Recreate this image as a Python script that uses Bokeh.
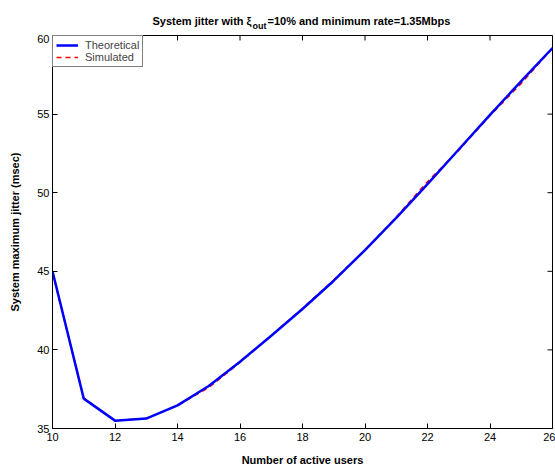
from bokeh.plotting import figure
from bokeh.layouts import column
from bokeh.models import Legend, LegendItem, FixedTicker, Range1d
from bokeh.core.properties import value
from bokeh.embed import file_html
from bokeh.resources import INLINE

users = [10, 11, 12, 13, 14, 15, 16, 17, 18, 19, 20, 21, 22, 23, 24, 25, 26]
theoretical = [45.0, 36.9, 35.5, 35.63, 36.47, 37.7, 39.25, 40.9, 42.6, 44.4, 46.35, 48.4, 50.55, 52.75, 54.95, 57.1, 59.2]
simulated = [44.9, 36.95, 35.5, 35.65, 36.45, 37.6, 39.2, 40.9, 42.65, 44.45, 46.35, 48.45, 50.7, 52.7, 54.9, 56.95, 59.2]

x_ticks = [10, 12, 14, 16, 18, 20, 22, 24, 26]
y_ticks = [35, 40, 45, 50, 55, 60]

title_main = "System jitter with \u03be"
title_sub = "out"
title_rest = "=10% and minimum rate=1.35Mbps"

FONT = "Liberation Sans"
W = 555
TITLE_H = 34
MAIN_H = 468 - TITLE_H
LEFT, RIGHT = 52, 3
FRAME_W = W - LEFT - RIGHT
FRAME_H = 394
X0, X1 = 10, 26
Y0, Y1 = 35, 60
TICK_PX = 5

# ---- title strip (its frame is aligned with the main plot's frame by the column) ----
t = figure(width=W, height=TITLE_H, output_backend="svg", toolbar_location=None,
           x_range=Range1d(LEFT, W - RIGHT), y_range=Range1d(0, TITLE_H),
           x_axis_type=None, y_axis_type=None,
           min_border_left=LEFT, min_border_right=RIGHT, min_border_top=0, min_border_bottom=0)
t.grid.visible = False
t.outline_line_color = None
t.text(x=[251], y=[13.5], text=[title_main], text_align="right", text_baseline="alphabetic",
       text_font=value(FONT), text_font_size="11px", text_font_style="bold", text_color="black")
t.text(x=[252], y=[9], text=[title_sub], text_align="left", text_baseline="alphabetic",
       text_font=value(FONT), text_font_size="9px", text_font_style="bold", text_color="black")
t.text(x=[267], y=[13.5], text=[title_rest], text_align="left", text_baseline="alphabetic",
       text_font=value(FONT), text_font_size="11px", text_font_style="bold", text_color="black")

# ---- main plot ----
p = figure(width=W, height=MAIN_H, output_backend="svg", toolbar_location=None,
           x_range=Range1d(X0, X1), y_range=Range1d(Y0, Y1),
           min_border_left=LEFT, min_border_right=RIGHT, min_border_top=1, min_border_bottom=39)
p.background_fill_color = "white"
p.border_fill_color = "white"
p.outline_line_color = "black"
p.xgrid.visible = False
p.ygrid.visible = False

for ax in [p.xaxis[0], p.yaxis[0]]:
    ax.major_tick_in = TICK_PX
    ax.major_tick_out = 0
    ax.minor_tick_in = 0
    ax.minor_tick_out = 0
    ax.axis_line_color = "black"
    ax.major_tick_line_color = "black"
    ax.major_label_text_font = FONT
    ax.major_label_text_font_size = "11px"
    ax.major_label_text_color = "black"
    ax.axis_label_text_font = FONT
    ax.axis_label_text_font_size = "11px"
    ax.axis_label_text_font_style = "bold"
    ax.axis_label_text_color = "black"

p.xaxis[0].ticker = FixedTicker(ticks=x_ticks)
p.yaxis[0].ticker = FixedTicker(ticks=y_ticks)
p.xaxis[0].axis_label = "Number of active users"
p.yaxis[0].axis_label = "System maximum jitter (msec)"
p.xaxis[0].major_label_standoff = 4
p.yaxis[0].major_label_standoff = 3
p.xaxis[0].axis_label_standoff = 10
p.yaxis[0].axis_label_standoff = 13

# inward ticks on the top and right edges of the box (MATLAB style)
tx = TICK_PX * (X1 - X0) / FRAME_W
ty = TICK_PX * (Y1 - Y0) / FRAME_H
p.segment(x0=x_ticks, y0=[Y1] * len(x_ticks), x1=x_ticks, y1=[Y1 - ty] * len(x_ticks),
          line_color="black", line_width=1)
p.segment(x0=[X1] * len(y_ticks), y0=y_ticks, x1=[X1 - tx] * len(y_ticks), y1=y_ticks,
          line_color="black", line_width=1)

r_sim = p.line(users, simulated, line_color="red", line_width=1.5, line_dash="5 4")
r_th = p.line(users, theoretical, line_color="blue", line_width=2.5)

legend = Legend(items=[LegendItem(label="Theoretical", renderers=[r_th]),
                       LegendItem(label="Simulated", renderers=[r_sim])],
                location="top_left", margin=0, padding=3, spacing=0,
                glyph_width=22, glyph_height=12, label_standoff=7,
                label_text_font=FONT, label_text_font_size="11px",
                border_line_color="black", border_line_width=1,
                background_fill_alpha=1)
p.add_layout(legend)

layout = column(t, p, spacing=0)
open("out.html", "w").write(file_html(layout, INLINE))
